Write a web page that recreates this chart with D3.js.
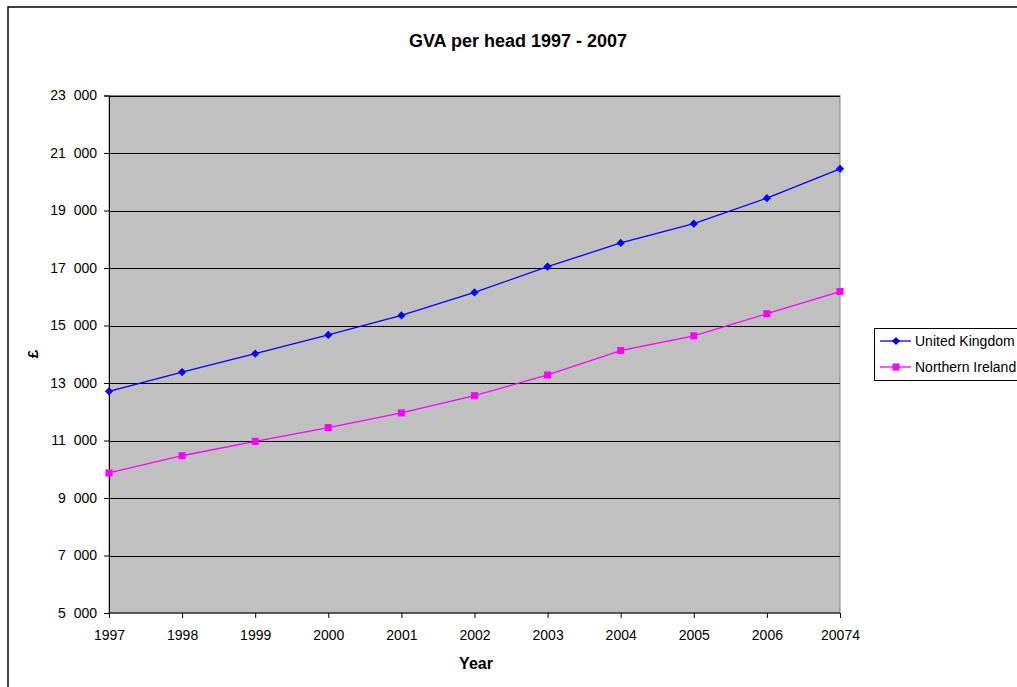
<!DOCTYPE html>
<html>
<head>
<meta charset="utf-8">
<script src="https://cdn.jsdelivr.net/npm/d3@7"></script>
<style>
  body { margin: 0; background: #fff; }
  svg text { font-family: "Liberation Sans", Arial, sans-serif; }
</style>
</head>
<body>
<div id="chart"></div>
<script>
const years = ["1997", "1998", "1999", "2000", "2001", "2002", "2003", "2004", "2005", "2006", "20074"];
const ukValues = [12710, 13380, 14020, 14670, 15350, 16150, 17050, 17870, 18540, 19430, 20450];
const niValues = [9870, 10470, 10970, 11450, 11960, 12560, 13280, 14130, 14640, 15410, 16180];
const yTicks = [5000, 7000, 9000, 11000, 13000, 15000, 17000, 19000, 21000, 23000];
const seriesNames = ["United Kingdom", "Northern Ireland"];
const seriesColors = ["#0000ff", "#ff00ff"];

const width = 1017, height = 687;
const plot = { left: 109, right: 840, top: 95.5, bottom: 613 };

const svg = d3.select("#chart").append("svg")
    .attr("width", width)
    .attr("height", height);

// outer chart border (runs off the right and bottom edge)
svg.append("rect")
    .attr("x", 8).attr("y", 7)
    .attr("width", 1040).attr("height", 720)
    .attr("fill", "#fff")
    .attr("stroke", "#000")
    .attr("stroke-width", 1.5);

const x = d3.scalePoint()
    .domain(years)
    .range([plot.left, plot.right]);

const y = d3.scaleLinear()
    .domain([5000, 23000])
    .range([plot.bottom, plot.top]);

const locale = d3.formatLocale({ decimal: ".", thousands: "\u00a0\u00a0", grouping: [3], currency: ["", ""] });
const fmt = locale.format(",");

// plot area
svg.append("rect")
    .attr("x", plot.left).attr("y", plot.top)
    .attr("width", plot.right - plot.left)
    .attr("height", plot.bottom - plot.top)
    .attr("fill", "#c0c0c0")
    .attr("stroke", "#808080")
    .attr("stroke-width", 1);

// gridlines
svg.append("g")
    .selectAll("line")
    .data(yTicks.filter(t => t > 5000))
    .join("line")
    .attr("x1", plot.left).attr("x2", plot.right)
    .attr("y1", d => Math.round(y(d)) + 0.5)
    .attr("y2", d => Math.round(y(d)) + 0.5)
    .attr("stroke", "#000")
    .attr("stroke-width", 1);

// y axis
const yAxis = svg.append("g")
    .attr("transform", `translate(${plot.left},0)`)
    .call(d3.axisLeft(y).tickValues(yTicks).tickSize(5).tickPadding(7).tickFormat(fmt));
yAxis.selectAll("text").attr("font-size", 14).attr("fill", "#000");
yAxis.selectAll("line, path").attr("stroke", "#000");

// x axis
const xAxis = svg.append("g")
    .attr("transform", `translate(0,${plot.bottom})`)
    .call(d3.axisBottom(x).tickSize(5).tickPadding(12));
xAxis.select(".domain").attr("d", `M${plot.left},0H${plot.right}`);
xAxis.selectAll("text").attr("font-size", 14).attr("fill", "#000");
xAxis.selectAll("line, path").attr("stroke", "#000");

// titles
svg.append("text")
    .attr("x", 518).attr("y", 47)
    .attr("text-anchor", "middle")
    .attr("font-size", 18).attr("font-weight", "bold")
    .text("GVA per head 1997 - 2007");

svg.append("text")
    .attr("x", 476).attr("y", 669)
    .attr("text-anchor", "middle")
    .attr("font-size", 16).attr("font-weight", "bold")
    .text("Year");

svg.append("text")
    .attr("transform", "translate(38,354) rotate(-90)")
    .attr("text-anchor", "middle")
    .attr("font-size", 15).attr("font-weight", "bold")
    .text("£");

// series
const allSeries = [ukValues, niValues];
const line = d3.line().x((d, i) => x(years[i])).y(d => y(d));
const diamond = d3.symbol().type(d3.symbolSquare).size(34);
const square = d3.symbol().type(d3.symbolSquare).size(50);

allSeries.forEach((vals, s) => {
    svg.append("path")
        .datum(vals)
        .attr("d", line)
        .attr("fill", "none")
        .attr("stroke", seriesColors[s])
        .attr("stroke-width", 1.3);
    svg.append("g")
        .selectAll("path")
        .data(vals)
        .join("path")
        .attr("transform", (d, i) => `translate(${x(years[i])},${y(d)})` + (s === 0 ? " rotate(45)" : ""))
        .attr("d", s === 0 ? diamond : square)
        .attr("fill", seriesColors[s]);
});

// legend
const legend = svg.append("g").attr("transform", "translate(874,328)");
legend.append("rect")
    .attr("x", 0.5).attr("y", 0.5)
    .attr("width", 200).attr("height", 52)
    .attr("fill", "#fff")
    .attr("stroke", "#000");
seriesNames.forEach((name, s) => {
    const ly = 13 + s * 26;
    legend.append("line")
        .attr("x1", 6).attr("x2", 37)
        .attr("y1", ly).attr("y2", ly)
        .attr("stroke", seriesColors[s])
        .attr("stroke-width", 1.3);
    legend.append("path")
        .attr("transform", `translate(22,${ly})` + (s === 0 ? " rotate(45)" : ""))
        .attr("d", s === 0 ? diamond : square)
        .attr("fill", seriesColors[s]);
    legend.append("text")
        .attr("x", 41).attr("y", ly + 5)
        .attr("font-size", 14)
        .text(name);
});
</script>
</body>
</html>
